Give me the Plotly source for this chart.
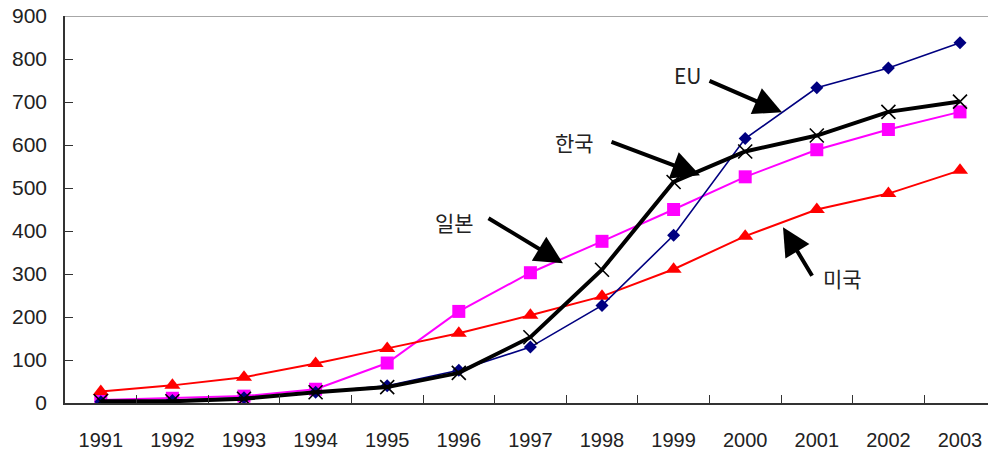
import plotly.graph_objects as go

years = ["1991", "1992", "1993", "1994", "1995", "1996", "1997",
         "1998", "1999", "2000", "2001", "2002", "2003"]
eu = [3, 6, 12, 25, 40, 76, 130, 227, 390, 615, 733, 779, 838]
japan = [7, 11, 16, 32, 93, 213, 303, 376, 450, 526, 589, 636, 677]
usa = [27, 41, 60, 92, 127, 162, 204, 248, 311, 388, 450, 487, 541]
korea = [4, 4, 10, 25, 37, 70, 153, 310, 514, 585, 622, 677, 701]
y_ticks = [0, 100, 200, 300, 400, 500, 600, 700, 800, 900]

fig = go.Figure()
fig.add_trace(go.Scatter(
    x=years, y=japan, mode="lines+markers", name="일본",
    line=dict(color="#FF00FF", width=2),
    marker=dict(symbol="square", size=13, color="#FF00FF")))
fig.add_trace(go.Scatter(
    x=years, y=usa, mode="lines+markers", name="미국",
    line=dict(color="#FF0000", width=2),
    marker=dict(symbol="triangle-up", size=14, color="#FF0000")))
fig.add_trace(go.Scatter(
    x=years, y=eu, mode="lines+markers", name="EU",
    line=dict(color="#000080", width=1.6),
    marker=dict(symbol="diamond", size=10, color="#000080")))
fig.add_trace(go.Scatter(
    x=years, y=korea, mode="lines+markers", name="한국",
    line=dict(color="#000000", width=4),
    marker=dict(symbol="x-thin", size=14, color="#000000",
                line=dict(color="#000000", width=1.6))))

# pixel helpers for the callouts (plot area: x 65..988, y 15.7..402.7)
def dx(px):
    return (px - 65) / 71.6 - 0.5

def dy(py):
    return (402.7 - py) / 0.43

label_font = dict(family="Noto Sans CJK KR, sans-serif", size=21, color="#222222")
callouts = [
    # text, text pos, arrow tip, arrow tail
    ("EU", (688, 75), (782, 112), (708, 80)),
    ("한국", (574, 142), (700, 175), (610, 141)),
    ("일본", (454, 222), (563, 263), (487, 217)),
    ("미국", (842, 278), (783, 227), (813, 277)),
]
annotations = []
for text, (tx, ty), (hx, hy), (sx, sy) in callouts:
    annotations.append(dict(
        x=dx(tx), y=dy(ty), xref="x", yref="y", text=text,
        showarrow=False, font=label_font))
    annotations.append(dict(
        x=dx(hx), y=dy(hy), xref="x", yref="y", text="",
        showarrow=True, ax=sx - hx, ay=sy - hy, axref="pixel", ayref="pixel",
        arrowhead=2, arrowsize=1.4, arrowwidth=4, arrowcolor="#000000"))

tick_font = "Liberation Sans, Arial, sans-serif"

fig.update_layout(
    width=988, height=452,
    margin=dict(l=65, r=0, t=16, b=49),
    plot_bgcolor="white", paper_bgcolor="white",
    showlegend=False,
    font=dict(family=tick_font, size=20, color="#222222"),
    annotations=annotations,
    shapes=[dict(type="line", xref="paper", yref="y", x0=0, x1=1, y0=900, y1=900,
                 line=dict(color="#8a8a8a", width=1.5))],
    xaxis=dict(
        type="category", range=[-0.5, dx(988)],
        showgrid=False, zeroline=False,
        showline=True, linecolor="#333333", linewidth=1.5,
        ticks="inside", ticklen=8, tickcolor="#333333", tickwidth=1,
        tickson="boundaries", ticklabelstandoff=18,
        tickfont=dict(family=tick_font, size=20)),
    yaxis=dict(
        range=[0, 900], tickvals=y_ticks,
        showgrid=False, zeroline=False,
        showline=True, linecolor="#333333", linewidth=1.5,
        ticks="inside", ticklen=8, tickcolor="#333333", tickwidth=1,
        ticklabelstandoff=12, tickfont=dict(family=tick_font, size=21)),
)

fig.write_html("out.html")
